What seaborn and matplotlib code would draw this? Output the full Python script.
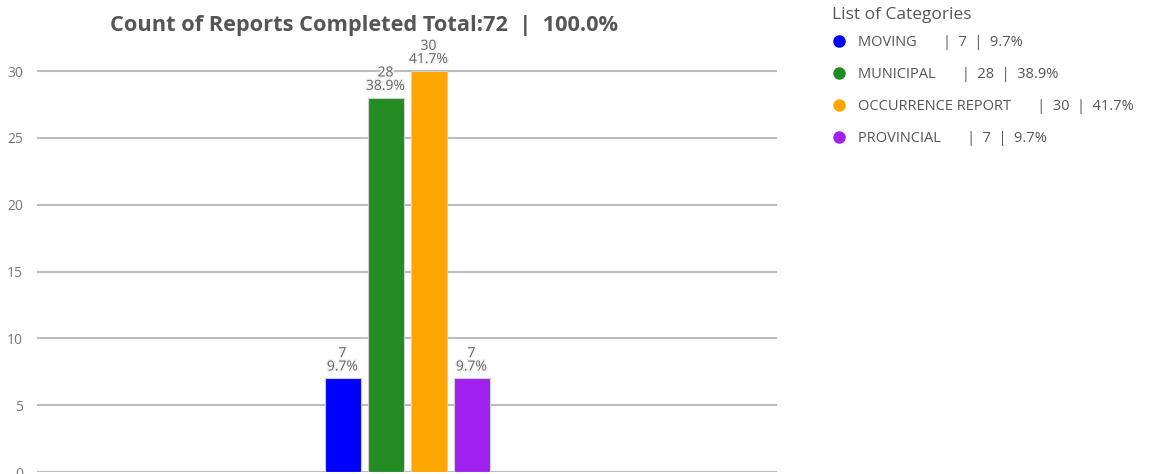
import matplotlib
matplotlib.use("Agg")
import matplotlib.pyplot as plt
import matplotlib.patheffects as pe
from matplotlib.lines import Line2D
import seaborn as sns
import pandas as pd

categories = ["MOVING", "MUNICIPAL", "OCCURRENCE REPORT", "PROVINCIAL"]
counts = [7, 28, 30, 7]
percents = ["9.7%", "38.9%", "41.7%", "9.7%"]
colors = ["#0000FF", "#228B22", "#FFA500", "#A020F0"]
yticks = [0, 5, 10, 15, 20, 25, 30]
title = "Count of Reports Completed Total:72  |  100.0%"
legend_title = "List of Categories"

sns.set_theme(style="white")
plt.rcParams["font.family"] = ["Open Sans", "DejaVu Sans"]

df = pd.DataFrame({"cat": categories, "count": counts})

fig = plt.figure(figsize=(11.52, 4.74), dpi=100)
ax = fig.add_axes([37/1152, 2/474, 740/1152, 441/474])

sns.barplot(data=df, x="cat", y="count", hue="cat", palette=colors,
            width=36/43, dodge=False, legend=False, ax=ax, saturation=1,
            edgecolor="#d0d0d0", linewidth=0.8)

ax.set_xlim(1.5 - 370/43, 1.5 + 370/43)
ax.set_ylim(0, 33)
ax.set_yticks(yticks)
ax.set_xticks([])
ax.set_xlabel("")
ax.set_ylabel("")
ax.grid(axis="y", color="#bdbdbd", linewidth=1.5)
ax.set_axisbelow(True)
for s in ax.spines.values():
    s.set_visible(False)
ax.tick_params(axis="y", labelsize=10, labelcolor="#777777", length=0, pad=10)

for i, (c, p) in enumerate(zip(counts, percents)):
    ax.text(i, c + 0.3, f"{c}\n{p}", ha="center", va="bottom", fontsize=10,
            color="#666666", linespacing=0.85,
            path_effects=[pe.withStroke(linewidth=2.5, foreground="#f4f4f4")])

fig.text(364/1152, 1 - 25/474, title, ha="center", va="center",
         fontsize=15.7, fontweight="bold", color="#555555")

fig.text(832/1152, 1 - 15/474, legend_title, ha="left", va="center",
         fontsize=12.5, color="#555555")

handles = [Line2D([0], [0], marker="o", linestyle="", markersize=8,
                  markerfacecolor=col, markeredgecolor=col) for col in colors]
labels = [f"{c}       |  {n}  |  {p}" for c, n, p in zip(categories, counts, percents)]
leg = fig.legend(handles, labels, loc="upper left",
                 bbox_to_anchor=(830/1152, 1 - 35/474), frameon=False,
                 fontsize=10.5, labelspacing=1.17,
                 handletextpad=0.7, handlelength=1.2,
                 borderaxespad=0, borderpad=0)
for t in leg.get_texts():
    t.set_color("#555555")

fig.savefig("out.png", dpi=100)
